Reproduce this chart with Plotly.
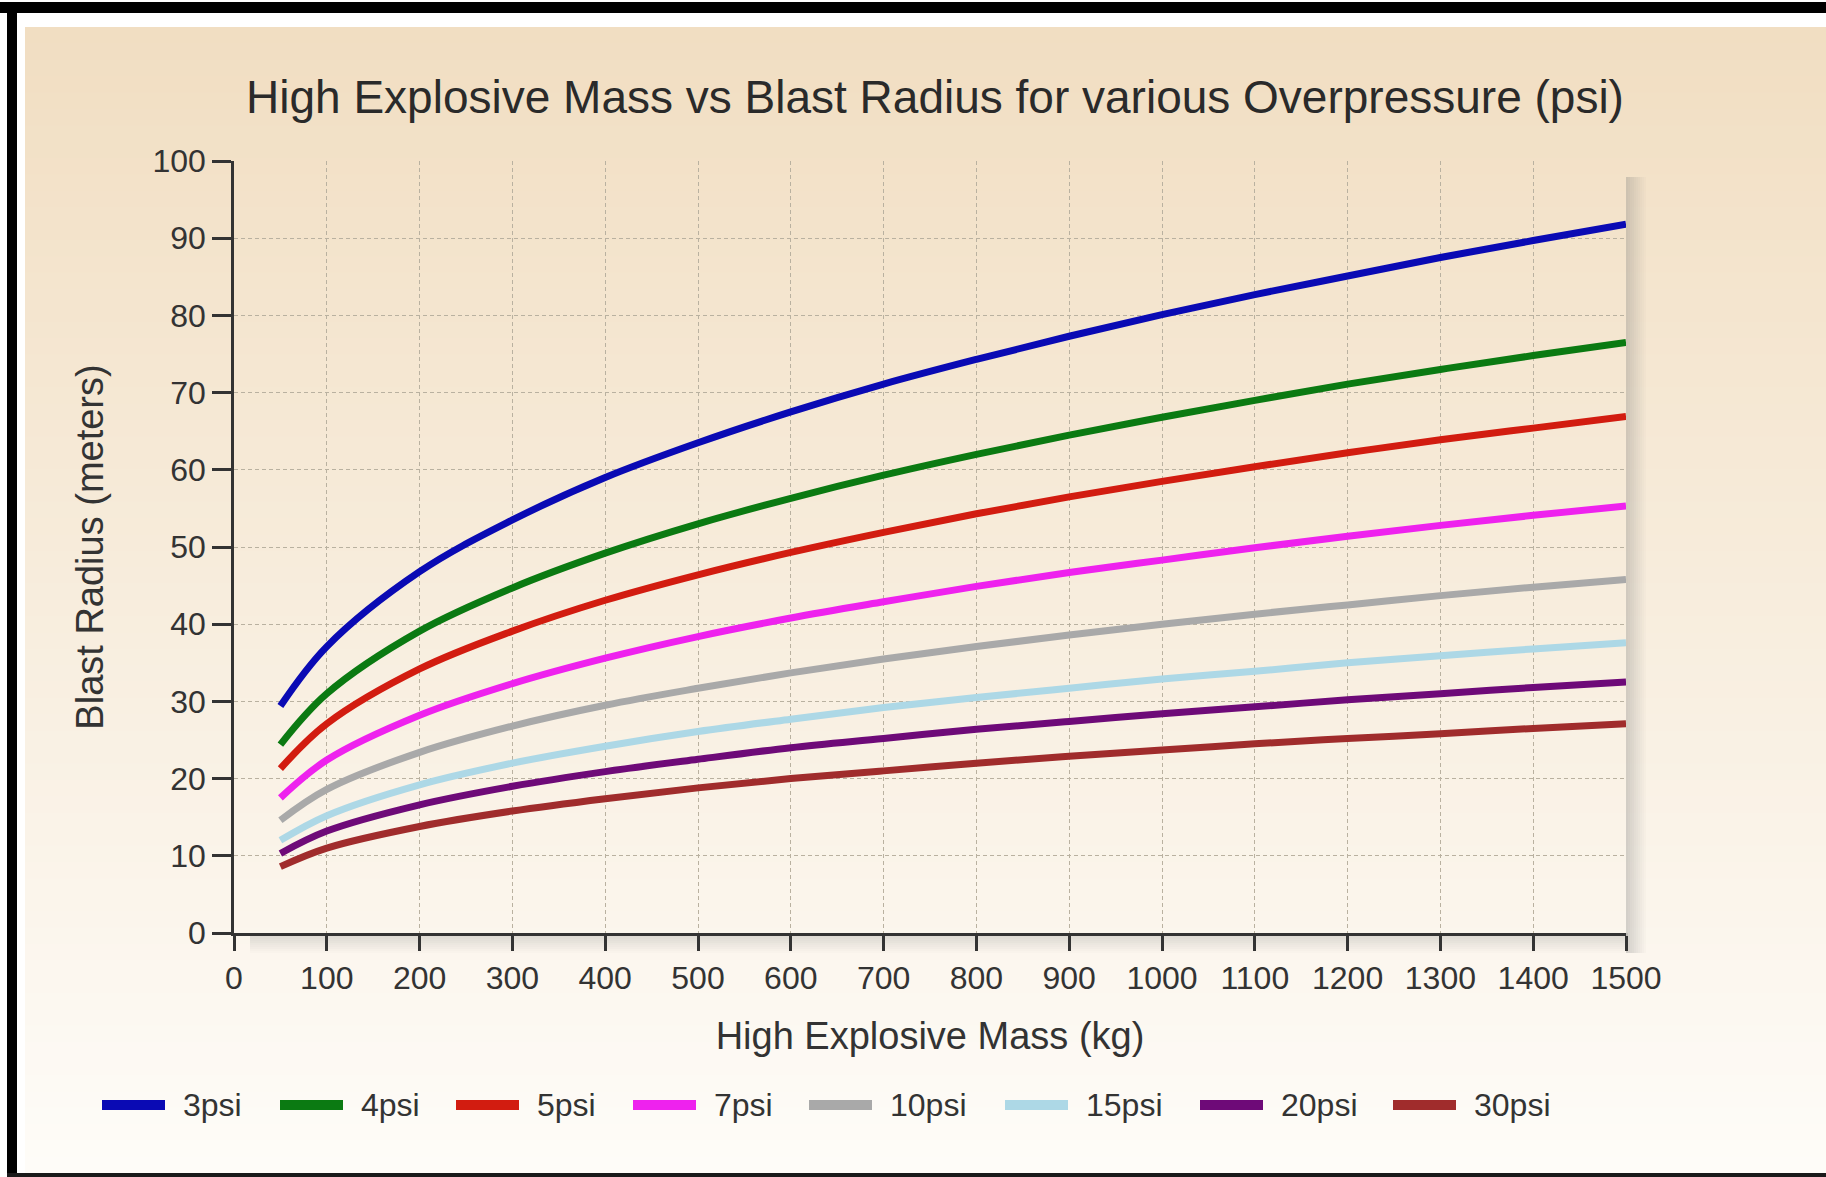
import plotly.graph_objects as go

# high explosive mass (kg) at which the curves were read
mass_kg = [50, 100, 200, 300, 400, 500, 600, 700, 800, 900, 1000, 1100, 1200, 1300, 1400, 1500]

# blast radius (m) for each overpressure
r_3psi = [29.4, 37.1, 46.8, 53.5, 59.0, 63.5, 67.5, 71.1, 74.3, 77.3, 80.1, 82.7, 85.1, 87.5, 89.7, 91.8]
r_4psi = [24.4, 31.0, 39.1, 44.7, 49.2, 53.0, 56.3, 59.3, 62.0, 64.5, 66.8, 69.0, 71.1, 73.0, 74.8, 76.5]
r_5psi = [21.3, 27.1, 34.2, 39.1, 43.1, 46.4, 49.3, 51.9, 54.3, 56.5, 58.5, 60.4, 62.2, 63.9, 65.4, 66.9]
r_7psi = [17.5, 22.4, 28.2, 32.3, 35.6, 38.4, 40.8, 42.9, 44.9, 46.7, 48.3, 49.9, 51.4, 52.8, 54.1, 55.3]
r_10psi = [14.6, 18.6, 23.4, 26.8, 29.5, 31.7, 33.7, 35.5, 37.1, 38.6, 40.0, 41.3, 42.5, 43.7, 44.8, 45.8]
r_15psi = [12.0, 15.2, 19.2, 22.0, 24.2, 26.1, 27.7, 29.2, 30.5, 31.7, 32.9, 33.9, 35.0, 35.9, 36.8, 37.6]
r_20psi = [10.3, 13.2, 16.6, 19.0, 20.9, 22.5, 24.0, 25.2, 26.4, 27.4, 28.4, 29.3, 30.2, 31.0, 31.8, 32.5]
r_30psi = [8.6, 11.0, 13.8, 15.8, 17.4, 18.8, 20.0, 21.0, 22.0, 22.9, 23.7, 24.5, 25.2, 25.8, 26.5, 27.1]

series_names = ["3psi", "4psi", "5psi", "7psi", "10psi", "15psi", "20psi", "30psi"]
series_values = [r_3psi, r_4psi, r_5psi, r_7psi, r_10psi, r_15psi, r_20psi, r_30psi]
series_colors = ["#0a0ab4", "#0b7a12", "#d21c10", "#ee22ee", "#a9a9a9", "#add8e6", "#6e0a78", "#a02c2c"]

x_ticks = list(range(0, 1501, 100))
y_ticks = list(range(0, 101, 10))

FONT = "Liberation Sans, Arial, sans-serif"
TEXT = "#333333"

# page geometry in pixels
W, H = 1826, 1177
L, R, T, B = 234, 1626, 161, 933


def px(x):
    return (x - L) / (R - L)


def py(y):
    return (B - y) / (B - T)


fig = go.Figure()
for name, vals, col in zip(series_names, series_values, series_colors):
    fig.add_trace(go.Scatter(
        x=mass_kg, y=vals, name=name, mode="lines",
        line=dict(color=col, width=7, shape="spline"),
        showlegend=False,
    ))

shapes = []
# beige -> white vertical gradient behind the chart
top_c, bot_c = (241, 222, 194), (254, 252, 248)
n = 70
y_start, y_end = 27, 1173
for i in range(n):
    t = i / (n - 1)
    c = tuple(round(a + (b - a) * t) for a, b in zip(top_c, bot_c))
    y0 = y_start + (y_end - y_start) * i / n
    y1 = y_start + (y_end - y_start) * (i + 1) / n + 1
    shapes.append(dict(type="rect", xref="paper", yref="paper", layer="below",
                       x0=px(25), x1=px(W + 5), y0=py(y0), y1=py(y1),
                       fillcolor="rgb(%d,%d,%d)" % c, line=dict(width=0)))

# soft drop shadow on the right and under the plot area
for k in range(10):
    a = 0.30 * (1 - k / 10)
    shapes.append(dict(type="rect", xref="paper", yref="paper", layer="below",
                       x0=px(R + 2 * k), x1=px(R + 2 * k + 2), y0=py(B + 20), y1=py(T + 16),
                       fillcolor="rgba(120,120,120,%.3f)" % a, line=dict(width=0)))
    shapes.append(dict(type="rect", xref="paper", yref="paper", layer="below",
                       x0=px(L + 16), x1=px(R + 2), y0=py(B + 2 * k), y1=py(B + 2 * k + 2),
                       fillcolor="rgba(120,120,120,%.3f)" % (a * 0.8), line=dict(width=0)))

# black frame around the picture (top, left, bottom)
shapes.append(dict(type="rect", xref="paper", yref="paper", x0=px(-5), x1=px(W + 5),
                   y0=py(13), y1=py(2), fillcolor="#000000", line=dict(width=0)))
shapes.append(dict(type="rect", xref="paper", yref="paper", x0=px(7), x1=px(17),
                   y0=py(H + 5), y1=py(2), fillcolor="#000000", line=dict(width=0)))
shapes.append(dict(type="rect", xref="paper", yref="paper", x0=px(7), x1=px(W + 5),
                   y0=py(H + 5), y1=py(1173), fillcolor="#1a1a1a", line=dict(width=0)))

# legend row
legend_x = [102, 280, 456, 633, 809, 1005, 1200, 1393]
legend_y = 1105
annotations = []
for lx, name, col in zip(legend_x, series_names, series_colors):
    shapes.append(dict(type="line", xref="paper", yref="paper",
                       x0=px(lx), x1=px(lx + 63), y0=py(legend_y), y1=py(legend_y),
                       line=dict(color=col, width=10)))
    annotations.append(dict(x=px(lx + 79), y=py(legend_y), xref="paper", yref="paper",
                            text=name, showarrow=False, xanchor="left", yanchor="middle",
                            font=dict(family=FONT, size=32, color=TEXT)))

fig.update_layout(
    width=W, height=H,
    margin=dict(l=L, r=W - R, t=T, b=H - B, autoexpand=False),
    paper_bgcolor="#ffffff",
    plot_bgcolor="#fbf5e7",
    font=dict(family=FONT, color=TEXT),
    title=dict(text="High Explosive Mass vs Blast Radius for various Overpressure (psi)",
               x=935 / W, y=1 - 97 / H, xref="container", yref="container",
               xanchor="center", yanchor="middle",
               font=dict(family=FONT, size=46, color="#2a2a2a")),
    shapes=shapes,
    annotations=annotations,
    showlegend=False,
)

fig.update_xaxes(
    range=[0, 1500], tickvals=x_ticks, ticks="outside", ticklen=15, tickwidth=2.5,
    tickcolor="#333333", showline=True, linecolor="#333333", linewidth=2.5,
    showgrid=True, gridcolor="#b9b1a0", gridwidth=1, griddash="4px,3px", zeroline=False,
    tickfont=dict(family=FONT, size=32, color=TEXT),
    title=dict(text="High Explosive Mass (kg)", standoff=28,
               font=dict(family=FONT, size=38, color=TEXT)),
)
fig.update_yaxes(
    range=[0, 100], tickvals=y_ticks, ticks="outside", ticklen=19, tickwidth=2.5,
    tickcolor="#333333", showline=True, linecolor="#333333", linewidth=2.5,
    showgrid=True, gridcolor="#b9b1a0", gridwidth=1, griddash="4px,3px", zeroline=False,
    tickfont=dict(family=FONT, size=32, color=TEXT),
    title=dict(text="Blast Radius (meters)", standoff=38,
               font=dict(family=FONT, size=38, color=TEXT)),
)

# drop the default page margin so the figure sits flush in the window
fig.write_html("out.html", config={"displayModeBar": False},
               post_script="document.body.style.margin='0';document.body.style.overflow='hidden';")
